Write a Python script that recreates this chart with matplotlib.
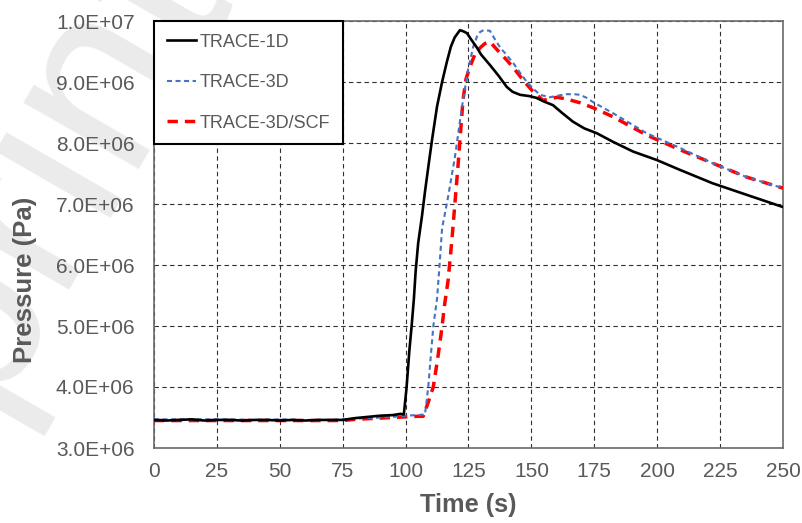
import matplotlib
matplotlib.use("Agg")
import matplotlib.pyplot as plt
from matplotlib.ticker import FuncFormatter, MultipleLocator

# ---------------- data (time in s, pressure in MPa -> Pa) ----------------
t_1d = [0, 5, 10, 15, 20, 25, 30, 35, 40, 45, 50, 55, 60, 65, 70, 75, 80, 85, 90, 95, 98, 99.3,
        100.4, 101.5, 102.4, 103.3, 104, 105, 106.5, 107.7, 109, 110.5, 112.5, 114.5, 116.4, 118,
        119.5, 121.6, 123, 124.4, 126, 128.4, 130, 133.5, 137, 140.2, 142.5, 145.5, 149, 152, 155,
        158.6, 162, 166.5, 171, 176, 182.4, 190.4, 199.9, 209, 222, 235.6, 250]
p_1d = [3.46, 3.45, 3.46, 3.47, 3.45, 3.46, 3.46, 3.45, 3.46, 3.46, 3.45, 3.46, 3.45, 3.46, 3.46, 3.46,
        3.49, 3.51, 3.53, 3.54, 3.56, 3.55,
        4.0, 4.6, 5.0, 5.45, 5.9, 6.36, 6.8, 7.2, 7.6, 8.05, 8.6, 9.0, 9.33, 9.58,
        9.73, 9.85, 9.83, 9.8, 9.7, 9.56, 9.45, 9.28, 9.1, 8.92, 8.84, 8.79, 8.77, 8.74, 8.68,
        8.62, 8.5, 8.35, 8.24, 8.16, 8.02, 7.86, 7.72, 7.56, 7.34, 7.15, 6.95]

t_3d = [0, 10, 20, 30, 40, 50, 60, 70, 75, 80, 85, 90, 95, 100, 105, 107.7,
        109, 110, 111, 112.5, 113.5, 114.5, 116.9, 119.6, 122.4, 124.8, 126.9, 128.5, 129.6, 131,
        133.5, 135.5, 137.5, 140, 142.8, 145.5, 148.2, 151, 153.4, 157.4, 161, 164, 167, 169.3,
        172, 174.5, 182.4, 195.8, 209, 222, 235.6, 250]
p_3d = [3.47, 3.47, 3.47, 3.47, 3.46, 3.47, 3.46, 3.46, 3.47, 3.48, 3.49, 3.5, 3.51, 3.53, 3.54, 3.55,
        4.0, 4.5, 4.99, 5.45, 6.0, 6.6, 7.12, 7.77, 8.59, 9.2, 9.58, 9.76, 9.82, 9.85,
        9.84, 9.7, 9.57, 9.45, 9.31, 9.15, 9.0, 8.88, 8.79, 8.75, 8.78, 8.8, 8.8, 8.79,
        8.74, 8.67, 8.49, 8.16, 7.92, 7.67, 7.44, 7.26]

t_scf = [0, 10, 20, 30, 40, 50, 60, 70, 75, 80, 85, 90, 95, 100, 105, 107,
         109, 111, 112.7, 114.3, 115.5, 116.9, 118.4, 120.8, 122.8, 124, 125.6, 127.5, 129.6, 131.5,
         133.5, 137, 140.2, 143.5, 146.7, 150.5, 154.6, 157, 160.2, 164, 169.3, 175, 182.4, 195.8,
         209, 222, 235.6, 250]
p_scf = [3.45, 3.45, 3.45, 3.45, 3.45, 3.45, 3.45, 3.45, 3.45, 3.47, 3.48, 3.49, 3.5, 3.51, 3.52, 3.52,
         3.75, 4.0, 4.45, 4.93, 5.35, 5.75, 6.41, 7.61, 8.7, 9.05, 9.25, 9.45, 9.56, 9.63,
         9.66, 9.5, 9.36, 9.2, 9.03, 8.85, 8.7, 8.72, 8.75, 8.72, 8.66, 8.57, 8.43, 8.13,
         7.89, 7.67, 7.44, 7.26]

labels = ["TRACE-1D", "TRACE-3D", "TRACE-3D/SCF"]
x_ticks = [0, 25, 50, 75, 100, 125, 150, 175, 200, 225, 250]

GRAY = "#595959"
plt.rcParams['font.family'] = ['Liberation Sans', 'DejaVu Sans']

W, H = 803, 523
fig = plt.figure(figsize=(W / 100, H / 100), dpi=100)
ax = fig.add_axes([154 / W, (H - 448) / H, 629 / W, 427 / H])
ax.set_facecolor("white")
ax.set_zorder(1)

# faint watermark (partly off the page, as in the reference)
fig.text(225 / W, 1 + 15 / H, "Preprint", rotation=60, rotation_mode="anchor",
         ha="right", va="baseline", fontsize=180, color="#ebebeb", zorder=-5)

ax.plot(t_1d, [v * 1e6 for v in p_1d], color="black", lw=1.9, label=labels[0], zorder=5)
ax.plot(t_3d, [v * 1e6 for v in p_3d], color="#4472C4", lw=1.5, dashes=(2.4, 1.7),
        label=labels[1], zorder=4)
ax.plot(t_scf, [v * 1e6 for v in p_scf], color="#FF0000", lw=2.5, dashes=(3.0, 2.0),
        label=labels[2], zorder=3)

ax.set_xlim(0, 250)
ax.set_ylim(3e6, 1e7)
ax.set_xticks(x_ticks)
ax.yaxis.set_major_locator(MultipleLocator(1e6))
ax.yaxis.set_major_formatter(FuncFormatter(lambda v, p: f"{v:.1E}"))
ax.tick_params(axis="both", length=0, labelsize=15, labelcolor=GRAY)
ax.tick_params(axis="x", pad=10)
ax.tick_params(axis="y", pad=14)

ax.grid(True, color="#303030", lw=0.8, linestyle=(0, (4, 3)))
ax.set_axisbelow(True)
for s in ax.spines.values():
    s.set_color("#6a6a6a")
    s.set_linewidth(1.2)

leg = ax.legend(loc="upper left", borderaxespad=0, fancybox=False, framealpha=1,
                edgecolor="black", fontsize=13, handlelength=1.65, handletextpad=0.2,
                labelspacing=1.3, borderpad=0.7)
leg.get_frame().set_linewidth(1.5)
for txt in leg.get_texts():
    txt.set_color(GRAY)

fig.text(25 / W, 1 - 280 / H, "Pressure (Pa)", rotation=90, ha="center", va="center",
         fontsize=18.5, fontweight="bold", color=GRAY)
fig.text(468 / W, 1 - 505 / H, "Time (s)", ha="center", va="center",
         fontsize=18.3, fontweight="bold", color=GRAY)

fig.savefig("out.png", dpi=100)
